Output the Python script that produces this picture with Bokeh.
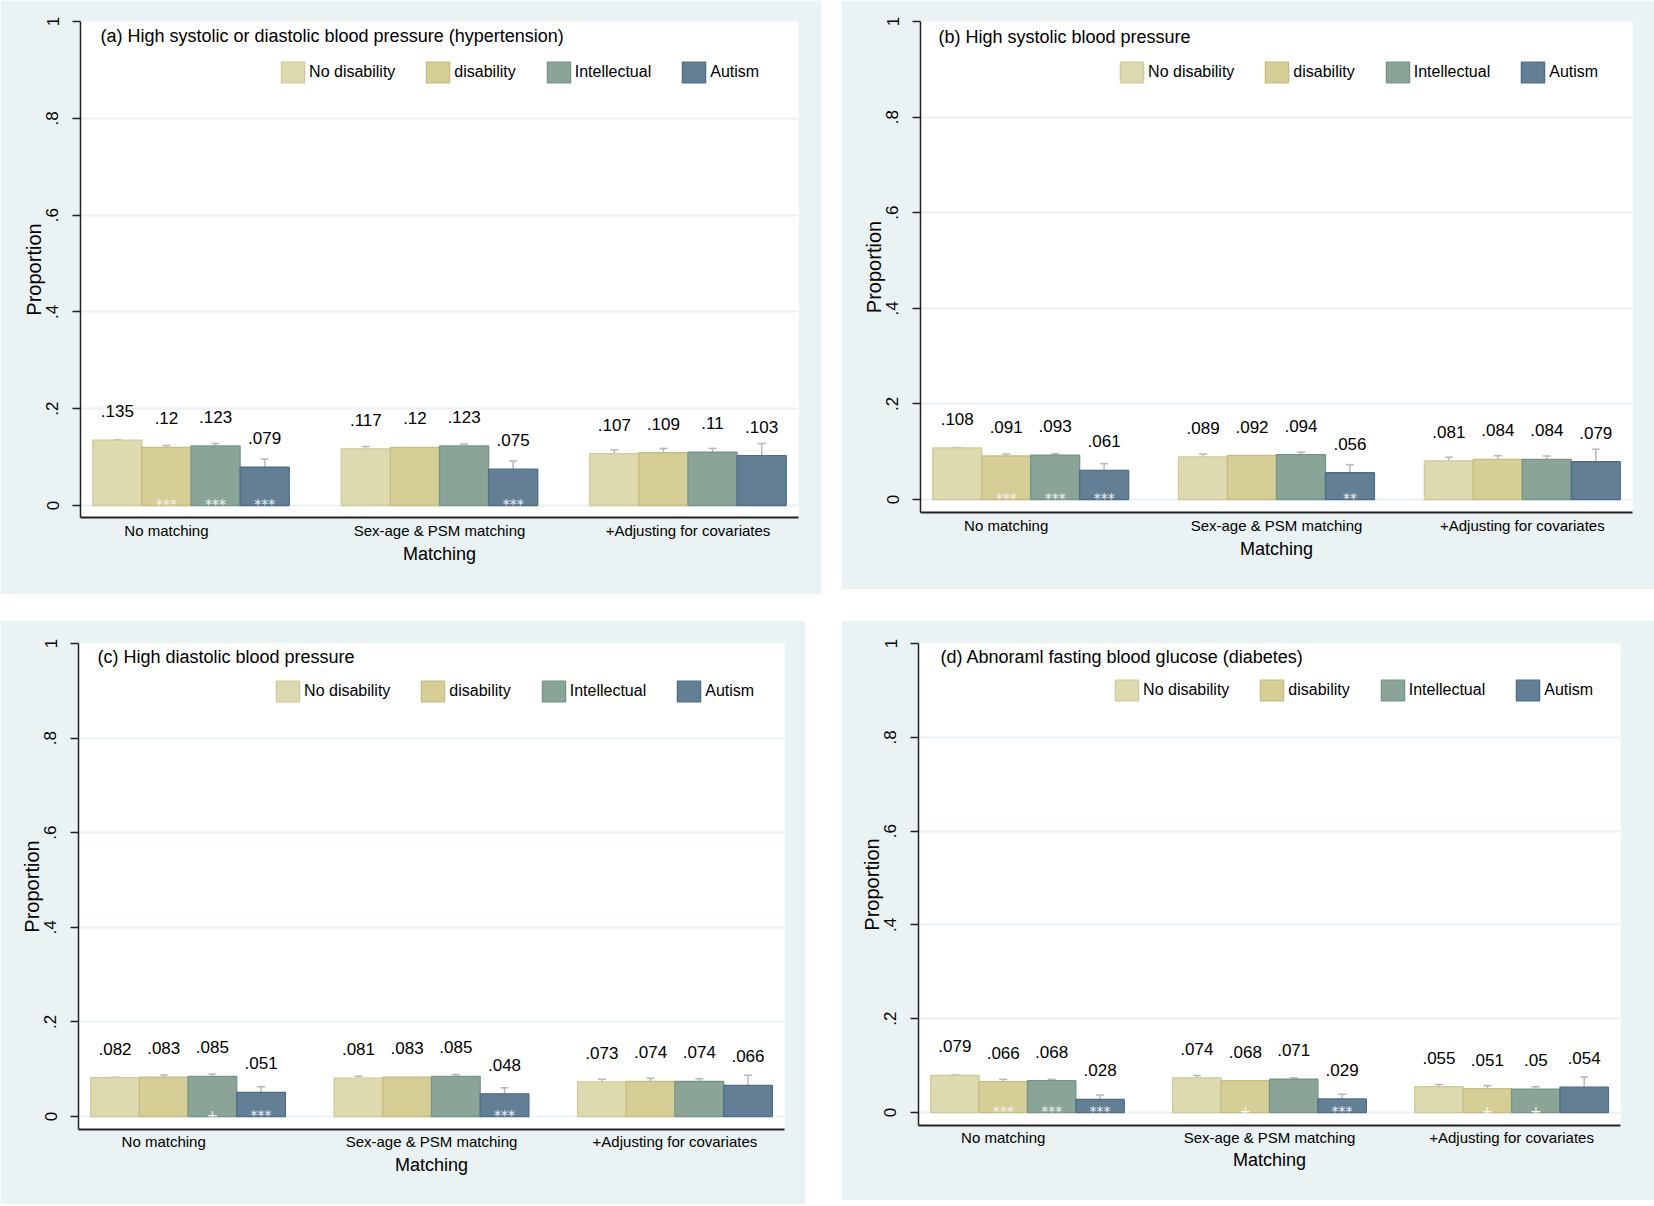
import math
from bokeh.plotting import figure
from bokeh.models import ColumnDataSource, FixedTicker, Whisker, TeeHead, Label, Range1d
from bokeh.layouts import row, column
from bokeh.core.properties import value
from bokeh.embed import file_html
from bokeh.resources import INLINE

# ---------------- data ----------------
groups = ["No matching", "Sex-age & PSM matching", "+Adjusting for covariates"]
series = ["No disability", "disability", "Intellectual", "Autism"]
y_ticks = [0, 0.2, 0.4, 0.6, 0.8, 1.0]
y_tick_labels = ["0", ".2", ".4", ".6", ".8", "1"]

title_a = "(a) High systolic or diastolic blood pressure (hypertension)"
vals_a = [[.135, .12, .123, .079], [.117, .12, .123, .075], [.107, .109, .11, .103]]
ci_a = [[.001, .004, .005, .017], [.005, 0, .004, .017], [.008, .009, .008, .025]]
stars_a = [["", "***", "***", "***"], ["", "", "", "***"], ["", "", "", ""]]

title_b = "(b) High systolic blood pressure"
vals_b = [[.108, .091, .093, .061], [.089, .092, .094, .056], [.081, .084, .084, .079]]
ci_b = [[.001, .004, .003, .014], [.006, 0, .005, .017], [.0075, .0075, .007, .026]]
stars_b = [["", "***", "***", "***"], ["", "", "", "**"], ["", "", "", ""]]

title_c = "(c) High diastolic blood pressure"
vals_c = [[.082, .083, .085, .051], [.081, .083, .085, .048], [.073, .074, .074, .066]]
ci_c = [[.001, .005, .005, .012], [.004, 0, .004, .013], [.006, .007, .006, .021]]
stars_c = [["", "", "+", "***"], ["", "", "", "***"], ["", "", "", ""]]

title_d = "(d) Abnoraml fasting blood glucose (diabetes)"
vals_d = [[.079, .066, .068, .028], [.074, .068, .071, .029], [.055, .051, .05, .054]]
ci_d = [[.001, .005, .003, .0095], [.005, 0, .003, .01], [.005, .006, .005, .022]]
stars_d = [["", "***", "***", "***"], ["", "+", "", "***"], ["", "+", "+", ""]]

# ---------------- style ----------------
FONT = "Liberation Sans"
fills = ["#dddab0", "#d5ce97", "#8aa598", "#637f96"]
lines = ["#d0cb9c", "#c6bd80", "#779587", "#4f6d86"]
BG = "#eaf2f3"


def fmt(v):
    s = f"{v:.3f}".rstrip("0")
    return s[1:] if s.startswith("0") else s


def panel(title, vals, cis, stars, g):
    W, H = g["w"], g["h"]
    bl, br, bt, bb = g["border"]
    fw = W - bl - br
    fh = H - bt - bb
    step = 4 + g["gap"]
    m = 0.25
    x0, x1 = -2 - m, 2 * step + 2 + m
    ppy = fh - g["below"]
    ppx = fw / (x1 - x0)
    y0 = -g["below"] / ppy

    p = figure(width=W, height=H, x_range=Range1d(x0, x1), y_range=Range1d(y0, 1.0),
               min_border_left=bl, min_border_right=br, min_border_top=bt, min_border_bottom=bb,
               output_backend="svg", toolbar_location=None,
               background_fill_color="white", border_fill_color=BG, outline_line_color=None)

    for k in range(4):
        xs = [gi * step + k - 1.5 for gi in range(3)]
        tops = [vals[gi][k] for gi in range(3)]
        p.vbar(x=xs, top=tops, bottom=0, width=1, fill_color=fills[k], line_color=lines[k],
               line_width=1.3, legend_label=series[k])

    wx, wu, wl = [], [], []
    lx, ly, lt = [], [], []
    sx, st = [], []
    for gi in range(3):
        for k in range(4):
            x = gi * step + k - 1.5
            v = vals[gi][k]
            c = cis[gi][k]
            if c > 0:
                wx.append(x); wu.append(v + c); wl.append(v - c)
            lx.append(x); ly.append(v); lt.append(fmt(v))
            if stars[gi][k]:
                sx.append(x); st.append(stars[gi][k])

    wsrc = ColumnDataSource(dict(x=wx, upper=wu, lower=wl))
    ecol = "#b8b8b8"
    p.add_layout(Whisker(source=wsrc, base="x", upper="upper", lower="lower",
                         line_color=ecol, line_width=1.5,
                         upper_head=TeeHead(size=8, line_color=ecol, line_width=1.5),
                         lower_head=TeeHead(size=8, line_color=ecol, line_width=1.5)))

    p.text(x=lx, y=ly, text=lt, text_align="center", text_baseline="middle", y_offset=-29,
           text_font=value(FONT), text_font_size="17px", text_color="black")
    p.text(x=sx, y=[0] * len(sx), text=st, text_align="center", text_baseline="middle",
           y_offset=-1.5, text_font=value("DejaVu Sans"), text_font_size="14px", text_color="#f4f4f4")

    p.add_layout(Label(x=x0 + g["title"][0] / ppx, y=1.0 - g["title"][1] / ppy, text=title,
                       text_font=FONT, text_font_size="18px", text_baseline="middle",
                       text_align="left", text_color="black"))

    # axes
    p.yaxis.ticker = FixedTicker(ticks=y_ticks)
    p.yaxis.major_label_overrides = {t: s for t, s in zip(y_ticks, y_tick_labels)}
    p.yaxis.major_label_orientation = "parallel"
    p.yaxis.major_tick_out = 8
    p.yaxis.major_tick_in = 0
    p.yaxis.minor_tick_line_color = None
    p.yaxis.axis_line_width = 1.5
    p.yaxis.axis_line_color = "#222222"
    p.yaxis.major_tick_line_color = "#222222"
    p.yaxis.major_tick_line_width = 1.5
    p.yaxis.major_label_standoff = 14
    p.yaxis.major_label_text_font = FONT
    p.yaxis.major_label_text_font_size = "17px"
    p.yaxis.major_label_text_color = "black"
    p.yaxis.axis_label = "Proportion"
    p.yaxis.axis_label_text_font = FONT
    p.yaxis.axis_label_text_font_size = "20px"
    p.yaxis.axis_label_text_font_style = "normal"
    p.yaxis.axis_label_text_color = "black"
    p.yaxis.axis_label_standoff = -1

    xt = [-0.5, step, 2 * step]
    p.xaxis.ticker = FixedTicker(ticks=xt)
    p.xaxis.major_label_overrides = {t: s for t, s in zip(xt, groups)}
    p.xaxis.major_tick_line_color = None
    p.xaxis.major_tick_out = 0
    p.xaxis.major_tick_in = 0
    p.xaxis.minor_tick_line_color = None
    p.xaxis.axis_line_width = 2
    p.xaxis.axis_line_color = "#222222"
    p.xaxis.major_label_standoff = g["xstand"]
    p.xaxis.major_label_text_font = FONT
    p.xaxis.major_label_text_font_size = g["xfs"]
    p.xaxis.major_label_text_color = "black"
    p.xaxis.axis_label = "Matching"
    p.xaxis.axis_label_text_font = FONT
    p.xaxis.axis_label_text_font_size = "18px"
    p.xaxis.axis_label_text_font_style = "normal"
    p.xaxis.axis_label_text_color = "black"
    p.xaxis.axis_label_standoff = g["tstand"]

    p.xgrid.grid_line_color = None
    p.ygrid.grid_line_color = BG
    p.ygrid.grid_line_width = 2

    lg = p.legend[0]
    gw, gh = 29, 26
    lg.orientation = "horizontal"
    lg.glyph_width = gw
    lg.glyph_height = gh
    lg.label_standoff = 2
    lg.spacing = 28
    lg.padding = 0
    lg.margin = 0
    lg.border_line_color = None
    lg.background_fill_alpha = 0
    lg.label_text_font = FONT
    lg.label_text_font_size = "16px"
    lg.label_text_color = "black"
    lg.label_height = gh
    lx0 = g["leg"][0] - 0.1 * gw
    lbottom = g["leg"][1] + 21 + 0.1 * gh
    lg.location = (lx0, fh - lbottom)
    return p


ga = dict(w=821, h=594, border=(80, 23, 21, 77), below=12, gap=1.06, leg=(201, 40),
          title=(20, 14), xstand=4, xfs="15px", tstand=2)
gb = dict(w=813, h=589, border=(79, 22, 21, 77), below=13, gap=1.02, leg=(200, 40),
          title=(18, 15), xstand=4, xfs="15px", tstand=2)
gc = dict(w=805, h=584, border=(78, 21, 23, 75), below=13, gap=1.0, leg=(198, 37),
          title=(19, 13), xstand=3, xfs="15px", tstand=2)
gd = dict(w=813, h=580, border=(77, 34, 22, 75), below=13, gap=1.0, leg=(197, 37),
          title=(22, 14), xstand=3, xfs="15px", tstand=1)

pa = panel(title_a, vals_a, ci_a, stars_a, ga)
pb = panel(title_b, vals_b, ci_b, stars_b, gb)
pc = panel(title_c, vals_c, ci_c, stars_c, gc)
pd = panel(title_d, vals_d, ci_d, stars_d, gd)

layout = column(row(pa, pb, spacing=20), row(pc, pd, spacing=36), spacing=26)
open("out.html", "w").write(file_html(layout, INLINE))
